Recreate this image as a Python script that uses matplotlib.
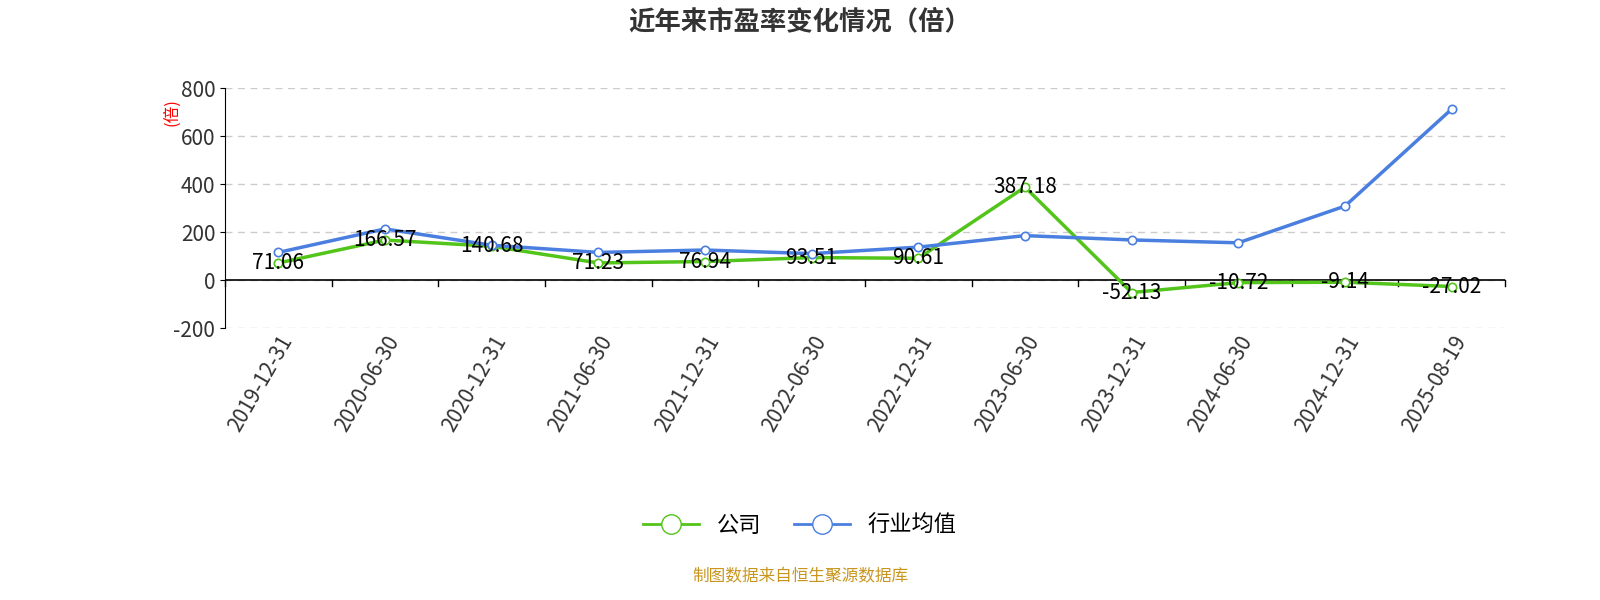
import matplotlib
matplotlib.use("Agg")
import matplotlib.pyplot as plt
from matplotlib.lines import Line2D

plt.rcParams['font.family'] = ['Noto Sans CJK SC', 'DejaVu Sans']

dates = ["2019-12-31","2020-06-30","2020-12-31","2021-06-30","2021-12-31","2022-06-30",
         "2022-12-31","2023-06-30","2023-12-31","2024-06-30","2024-12-31","2025-08-19"]
company = [71.06,166.57,140.68,71.23,76.94,93.51,90.61,387.18,-52.13,-10.72,-9.14,-27.02]
industry = [115,213,145,115,125,110,137,185,167,155,308,712]
yticks = [-200,0,200,400,600,800]

green = "#52c41a"
blue = "#4a7fe0"

fig = plt.figure(figsize=(16,6), dpi=100)
ax = fig.add_axes([0.1406,0.4533,0.8,0.4])
x = [i+0.5 for i in range(len(dates))]
ax.plot(x, company, color=green, lw=2.5, marker='o', ms=6, mfc='white', mec=green, mew=1.2, zorder=3)
ax.plot(x, industry, color=blue, lw=2.5, marker='o', ms=6, mfc='white', mec=blue, mew=1.2, zorder=3)
for xi, v in zip(x, company):
    ax.text(xi, v, f"{v:.2f}", ha='center', va='center', fontsize=15, color='black', zorder=4)

ax.set_xlim(0, len(dates))
ax.set_ylim(-200, 800)
ax.set_yticks(yticks)
ax.set_yticklabels([str(t) for t in yticks], fontsize=15, color='#333333')
ax.grid(axis='y', ls=(0,(5,4)), color='#cccccc', lw=1)
for s in ['top','right','bottom']:
    ax.spines[s].set_visible(False)
ax.spines['left'].set_color('black')
ax.axhline(0, color='black', lw=1.2, zorder=2)
ax.set_xticks(range(len(dates)+1))
ax.set_xticklabels([])
ax.tick_params(axis='x', length=0)
for i in range(len(dates)+1):
    ax.plot([i,i],[0,-25], color='black', lw=1, clip_on=False)
for xi, d in zip(x, dates):
    ax.text(xi, -215, d, rotation=60, ha='right', va='top', fontsize=15, color='#333333',
            rotation_mode='anchor')
ax.text(-0.5, 700, "(倍)", rotation=90, color='red', fontsize=12, ha='center', va='center')

fig.text(0.5, 0.963, "近年来市盈率变化情况（倍）", ha='center', va='center', fontsize=19,
         fontweight='bold', color='#333333')
handles = [Line2D([0],[0], color=green, lw=2, marker='o', ms=14, mfc='white', mec=green),
           Line2D([0],[0], color=blue, lw=2, marker='o', ms=14, mfc='white', mec=blue)]
fig.legend(handles, ["公司","行业均值"], loc='center', bbox_to_anchor=(0.5,0.125), ncol=2,
           frameon=False, fontsize=16, handlelength=2.5, columnspacing=1.5)
fig.text(0.5, 0.038, "制图数据来自恒生聚源数据库", ha='center', va='center', fontsize=12, color='#c8961e')
fig.savefig("out.png")
